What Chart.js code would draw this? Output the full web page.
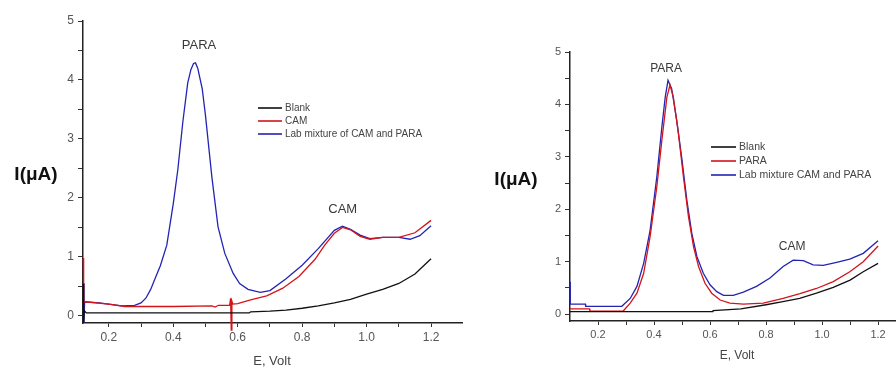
<!DOCTYPE html>
<html>
<head>
<meta charset="utf-8">
<script src="https://cdn.jsdelivr.net/npm/chart.js@4.4.0/dist/chart.umd.min.js"></script>
<style>
  html, body { margin: 0; padding: 0; background: #fff; width: 896px; height: 367px; overflow: hidden; }
  #left { position: absolute; left: 0; top: 0; }
  #right { position: absolute; left: 465px; top: 0; }
</style>
</head>
<body>
<canvas id="left" width="465" height="367"></canvas>
<canvas id="right" width="431" height="367"></canvas>
<script>
// ---- data ----
// left panel
const leftBlankX = [0.121, 0.122, 0.124, 0.13, 0.3, 0.5, 0.636, 0.64, 0.7, 0.75, 0.8, 0.85, 0.9, 0.95, 1.0, 1.05, 1.1, 1.15, 1.2];
const leftBlankY = [0.55, -0.12, 0.09, 0.05, 0.05, 0.05, 0.05, 0.07, 0.08, 0.1, 0.13, 0.17, 0.22, 0.28, 0.37, 0.45, 0.55, 0.71, 0.97];

const leftCamX = [0.121, 0.122, 0.125, 0.2, 0.25, 0.4, 0.52, 0.53, 0.54, 0.575, 0.578, 0.58, 0.582, 0.585, 0.6, 0.64, 0.69, 0.74, 0.79, 0.84, 0.87, 0.9, 0.925, 0.95, 0.98, 1.01, 1.05, 1.1, 1.15, 1.2];
const leftCamY = [0.98, 0.22, 0.24, 0.2, 0.16, 0.16, 0.17, 0.15, 0.18, 0.18, 0.3, -0.24, 0.25, 0.2, 0.21, 0.27, 0.34, 0.47, 0.67, 0.96, 1.2, 1.4, 1.5, 1.46, 1.35, 1.3, 1.33, 1.33, 1.41, 1.62];

const leftMixX = [0.122, 0.123, 0.125, 0.17, 0.24, 0.28, 0.3, 0.315, 0.33, 0.345, 0.36, 0.38, 0.4, 0.414, 0.43, 0.445, 0.455, 0.463, 0.469, 0.476, 0.49, 0.5, 0.52, 0.539, 0.56, 0.586, 0.606, 0.632, 0.67, 0.7, 0.75, 0.8, 0.85, 0.9, 0.925, 0.95, 0.98, 1.01, 1.05, 1.1, 1.135, 1.165, 1.2];
const leftMixY = [0.55, -0.12, 0.24, 0.22, 0.17, 0.18, 0.22, 0.3, 0.45, 0.65, 0.85, 1.2, 1.9, 2.47, 3.3, 3.95, 4.18, 4.28, 4.29, 4.2, 3.85, 3.4, 2.35, 1.51, 1.06, 0.72, 0.55, 0.45, 0.4, 0.43, 0.63, 0.86, 1.14, 1.45, 1.52, 1.47, 1.37, 1.31, 1.33, 1.33, 1.3, 1.36, 1.53];

// right panel
const rightBlankX = [0.1, 0.61, 0.611, 0.71, 0.8, 0.86, 0.92, 0.98, 1.04, 1.1, 1.147, 1.2];
const rightBlankY = [0.05, 0.05, 0.07, 0.1, 0.18, 0.24, 0.3, 0.4, 0.51, 0.65, 0.81, 0.97];

const rightParaX = [0.1, 0.17, 0.171, 0.29, 0.315, 0.339, 0.363, 0.386, 0.41, 0.428, 0.446, 0.457, 0.469, 0.487, 0.505, 0.523, 0.541, 0.559, 0.582, 0.606, 0.636, 0.671, 0.719, 0.79, 0.861, 0.921, 0.98, 1.04, 1.099, 1.147, 1.2];
const rightParaY = [0.1, 0.1, 0.06, 0.06, 0.21, 0.4, 0.78, 1.48, 2.43, 3.32, 4.14, 4.37, 4.14, 3.45, 2.62, 1.86, 1.29, 0.91, 0.59, 0.4, 0.27, 0.21, 0.19, 0.21, 0.3, 0.39, 0.49, 0.62, 0.81, 1.0, 1.3];

const rightMixX = [0.1, 0.101, 0.155, 0.156, 0.285, 0.315, 0.339, 0.363, 0.386, 0.41, 0.428, 0.44, 0.45, 0.463, 0.481, 0.5, 0.517, 0.535, 0.553, 0.576, 0.6, 0.624, 0.648, 0.683, 0.719, 0.766, 0.814, 0.861, 0.897, 0.933, 0.968, 1.004, 1.052, 1.099, 1.147, 1.2];
const rightMixY = [0.62, 0.19, 0.19, 0.15, 0.15, 0.3, 0.53, 0.97, 1.6, 2.62, 3.57, 4.14, 4.46, 4.3, 3.7, 2.94, 2.18, 1.54, 1.1, 0.78, 0.56, 0.43, 0.36, 0.36, 0.42, 0.53, 0.69, 0.91, 1.03, 1.02, 0.94, 0.93, 0.99, 1.05, 1.16, 1.4];

// ticks
const xTicks = [0.2, 0.3, 0.4, 0.5, 0.6, 0.7, 0.8, 0.9, 1.0, 1.1, 1.2];
const yTicks = [0, 0.5, 1, 1.5, 2, 2.5, 3, 3.5, 4, 4.5, 5];

const BLACK = '#111111';
const RED = '#d4141a';
const BLUE = '#2424b4';

function pts(xs, ys) {
  return xs.map((x, i) => ({ x: x, y: ys[i] }));
}

function line(label, xs, ys, color) {
  return {
    label: label,
    data: pts(xs, ys),
    borderColor: color,
    backgroundColor: color,
    borderWidth: 1.3,
    pointRadius: 0,
    tension: 0,
    clip: false
  };
}

// draws peak names, axis titles and the small legend
const notesPlugin = {
  id: 'notes',
  afterDraw(chart, args, opts) {
    const ctx = chart.ctx;
    const sx = chart.scales.x, sy = chart.scales.y;
    ctx.save();
    ctx.textAlign = 'center';
    ctx.textBaseline = 'middle';

    ctx.fillStyle = '#3a3a3a';
    ctx.font = opts.peakFont;
    opts.peaks.forEach(p => {
      ctx.fillText(p.text, sx.getPixelForValue(p.x), sy.getPixelForValue(p.y));
    });

    ctx.fillStyle = '#111';
    ctx.font = opts.yTitle.font;
    ctx.fillText('I(\u03bcA)', opts.yTitle.x, opts.yTitle.y);

    ctx.fillStyle = '#444';
    ctx.font = opts.xTitle.font;
    ctx.fillText('E, Volt', opts.xTitle.x, opts.xTitle.y);

    const lg = opts.legend;
    ctx.textAlign = 'left';
    ctx.font = lg.font;
    chart.data.datasets.forEach((ds, i) => {
      const y = lg.y + i * lg.row;
      ctx.strokeStyle = ds.borderColor;
      ctx.lineWidth = 1.6;
      ctx.beginPath();
      ctx.moveTo(lg.x, y);
      ctx.lineTo(lg.x + lg.len, y);
      ctx.stroke();
      ctx.fillStyle = '#444';
      ctx.fillText(ds.label, lg.x + lg.len + 3, y + 0.5);
    });
    ctx.restore();
  }
};

function makeOptions(cfg) {
  return {
    responsive: false,
    animation: false,
    layout: { padding: { left: 0, right: cfg.padRight, top: cfg.padTop, bottom: 0 } },
    plugins: {
      legend: { display: false },
      tooltip: { enabled: false },
      notes: cfg.notes
    },
    scales: {
      x: {
        type: 'linear',
        min: cfg.xMin,
        max: cfg.xMax,
        afterBuildTicks: s => { s.ticks = xTicks.map(v => ({ value: v })); },
        afterFit: s => { s.height = cfg.xHeight; },
        border: { display: true, color: '#222', width: 1.5 },
        grid: { drawOnChartArea: false, drawTicks: true, tickLength: 4, tickColor: '#333' },
        ticks: {
          autoSkip: false,
          maxRotation: 0,
          padding: 3,
          color: '#555',
          font: { family: 'Liberation Sans, Arial', size: cfg.tickSize },
          callback: v => (Math.round(v * 10) % 2 === 0 ? v.toFixed(1) : '')
        }
      },
      y: {
        type: 'linear',
        min: cfg.yMin,
        max: 5,
        afterBuildTicks: s => { s.ticks = yTicks.map(v => ({ value: v })); },
        afterFit: s => { s.width = cfg.yWidth; },
        border: { display: true, color: '#222', width: 1.5 },
        grid: { drawOnChartArea: false, drawTicks: true, tickLength: 5, tickColor: '#333' },
        ticks: {
          autoSkip: false,
          padding: 4,
          color: '#555',
          font: { family: 'Liberation Sans, Arial', size: cfg.tickSize },
          callback: v => (Number.isInteger(v) ? String(v) : '')
        }
      }
    }
  };
}

new Chart(document.getElementById('left'), {
  type: 'line',
  data: {
    datasets: [
      line('Blank', leftBlankX, leftBlankY, BLACK),
      line('CAM', leftCamX, leftCamY, RED),
      line('Lab mixture of CAM and PARA', leftMixX, leftMixY, BLUE)
    ]
  },
  options: makeOptions({
    padRight: 3, padTop: 21, xHeight: 44, yWidth: 83,
    xMin: 0.12, xMax: 1.296, yMin: -0.12, tickSize: 12,
    notes: {
      peakFont: '13px Liberation Sans, Arial',
      peaks: [{ text: 'PARA', x: 0.48, y: 4.58 }, { text: 'CAM', x: 0.926, y: 1.81 }],
      yTitle: { x: 36, y: 175, font: 'bold 19px Liberation Sans, Arial' },
      xTitle: { x: 272, y: 361, font: '13px Liberation Sans, Arial' },
      legend: { x: 258, y: 108, row: 13, len: 24, font: '10px Liberation Sans, Arial' }
    }
  }),
  plugins: [notesPlugin]
});

new Chart(document.getElementById('right'), {
  type: 'line',
  data: {
    datasets: [
      line('Blank', rightBlankX, rightBlankY, BLACK),
      line('PARA', rightParaX, rightParaY, RED),
      line('Lab mixture CAM and PARA', rightMixX, rightMixY, BLUE)
    ]
  },
  options: makeOptions({
    padRight: 0, padTop: 52, xHeight: 46, yWidth: 105,
    xMin: 0.1, xMax: 1.264, yMin: -0.13, tickSize: 11,
    notes: {
      peakFont: '12px Liberation Sans, Arial',
      peaks: [{ text: 'PARA', x: 0.443, y: 4.68 }, { text: 'CAM', x: 0.893, y: 1.28 }],
      yTitle: { x: 51, y: 180, font: 'bold 19px Liberation Sans, Arial' },
      xTitle: { x: 272, y: 356, font: '12px Liberation Sans, Arial' },
      legend: { x: 246, y: 147, row: 14, len: 25, font: '10.5px Liberation Sans, Arial' }
    }
  }),
  plugins: [notesPlugin]
});
</script>
</body>
</html>
